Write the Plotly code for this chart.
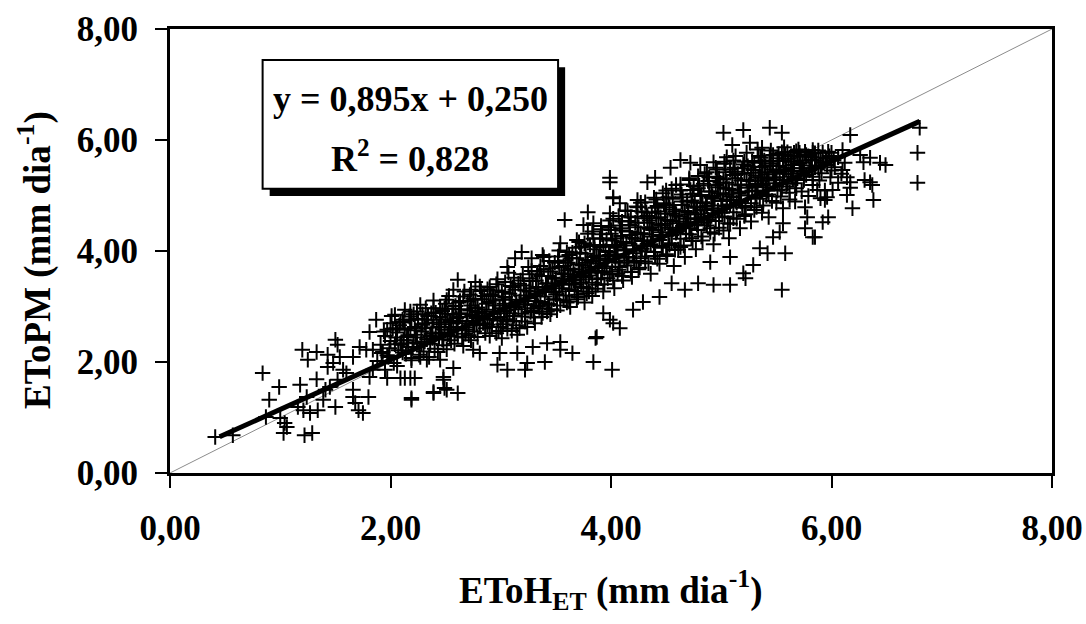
import plotly.graph_objects as go

# sparse points around the cloud
edge_pts = [
    (0.41, 0.65), (0.57, 0.68), (0.84, 1.80), (0.99, 1.55), (0.90, 1.32), (0.87, 1.01),
    (1.00, 0.99), (1.04, 0.90), (1.06, 0.83), (1.03, 0.72), (1.22, 0.68), (1.29, 0.72),
    (1.18, 1.59), (1.20, 2.22), (1.25, 2.04), (1.33, 2.18), (1.33, 1.69), (1.24, 1.37),
    (1.16, 1.19), (1.21, 1.13), (1.27, 1.08), (1.34, 1.13), (1.39, 1.32), (1.41, 1.50),
    (1.45, 1.55), (1.50, 1.19), (1.43, 2.13), (1.43, 1.91), (1.48, 1.98), (1.50, 2.40),
    (1.52, 2.31), (1.54, 2.09), (1.57, 1.86), (1.60, 1.80), (1.52, 1.68), (1.66, 1.50),
    (1.66, 1.37), (1.68, 1.26), (1.71, 1.13), (1.75, 1.08), (1.66, 2.09), (1.72, 2.27),
    (1.78, 2.22), (1.81, 1.73), (1.80, 1.37), (1.84, 1.86), (1.84, 2.22), (1.81, 2.54),
    (1.87, 2.76), (1.92, 2.16), (1.95, 1.86), (1.97, 1.71), (1.97, 2.58), (2.00, 2.70),
    (2.04, 2.85), (2.09, 1.71), (2.13, 1.71), (2.18, 1.71), (2.22, 1.71), (2.19, 1.32),
    (2.09, 2.34), (2.15, 2.45), (2.19, 2.07), (2.11, 2.76), (2.19, 2.76), (2.24, 2.34),
    (2.39, 1.44), (2.49, 1.53), (2.61, 1.44), (2.48, 1.68), (2.57, 1.89), (2.19, 1.35),
    (2.39, 1.46), (2.51, 1.50), (2.61, 3.48), (2.77, 3.44), (2.57, 3.30), (2.73, 3.30),
    (2.51, 3.12), (2.39, 2.97), (2.18, 2.76), (2.90, 3.35), (3.06, 3.71), (3.13, 3.87),
    (3.19, 3.98), (3.28, 3.87), (3.38, 3.93), (3.54, 4.14), (3.58, 4.56), (3.69, 4.20),
    (3.75, 4.47), (3.79, 4.70), (3.84, 4.50), (3.99, 4.68), (4.02, 4.97), (3.99, 5.24),
    (2.48, 1.73), (2.97, 1.95), (3.06, 1.86), (3.22, 1.86), (3.24, 1.98), (3.40, 2.00),
    (3.54, 2.22), (3.65, 2.16), (3.84, 2.00), (4.01, 1.86), (3.86, 2.43), (3.54, 2.36),
    (3.42, 2.34), (3.29, 2.27), (3.15, 2.16), (2.99, 2.16), (2.81, 2.16), (2.75, 2.22),
    (2.45, 2.04), (2.33, 2.04), (2.27, 2.09), (4.02, 2.70), (3.93, 2.88), (3.87, 2.45),
    (5.02, 6.13), (5.20, 6.18), (5.44, 6.22), (5.55, 6.13), (5.10, 5.91), (5.26, 5.95),
    (5.37, 5.86), (3.99, 5.32), (4.33, 5.24), (4.40, 5.32), (4.54, 5.50), (4.63, 5.64),
    (4.72, 5.59), (4.81, 5.55), (4.93, 5.60), (5.05, 5.69), (4.02, 4.95), (4.24, 4.92),
    (4.08, 4.86), (5.55, 5.78), (5.71, 5.77), (5.83, 5.77), (5.76, 4.79), (5.78, 4.61),
    (5.76, 4.41), (5.83, 4.25), (5.56, 4.50), (5.53, 4.34), (5.47, 4.25), (5.58, 3.96),
    (5.42, 3.96), (5.35, 4.05), (5.29, 3.75), (5.20, 3.60), (5.22, 3.51), (5.08, 3.39),
    (4.93, 3.39), (4.79, 3.42), (4.67, 3.30), (5.55, 3.30), (4.55, 3.42), (4.44, 3.17),
    (4.29, 3.08), (4.20, 2.94), (4.08, 2.61), (3.99, 2.76), (5.08, 3.89), (4.90, 3.80),
    (6.80, 6.22), (6.78, 5.77), (6.78, 5.23), (6.17, 6.09), (6.26, 5.73), (6.35, 5.68),
    (6.44, 5.59), (6.49, 5.55), (6.29, 5.60), (6.10, 5.82), (6.00, 5.77), (5.92, 5.77),
    (5.83, 5.82), (6.10, 5.46), (6.14, 5.33), (6.17, 5.24), (6.17, 5.14), (6.14, 5.01),
    (6.19, 4.77), (6.30, 5.28), (6.35, 5.24), (6.37, 5.19), (6.38, 4.92), (6.06, 5.23),
    (6.01, 5.10), (5.96, 4.97), (5.90, 4.95), (5.94, 4.92), (5.97, 4.61), (5.92, 4.52),
    (5.85, 4.25), (5.87, 5.10), (5.83, 5.28),
]

# dense band of the cloud
core_pts = [
    (1.88, 2.02), (1.91, 2.31), (1.93, 2.18), (1.95, 2.47), (1.97, 2.12), (2.00, 2.38),
    (2.02, 2.60), (1.99, 2.25), (2.03, 1.98), (2.05, 2.44), (2.07, 2.21), (2.08, 2.66),
    (2.06, 2.53), (2.10, 2.31), (2.12, 2.72), (2.14, 2.15), (2.16, 2.48), (2.15, 2.39),
    (2.13, 2.58), (2.17, 2.82), (2.20, 2.26), (2.22, 2.63), (2.23, 2.49), (2.25, 2.78),
    (2.21, 2.35), (2.24, 2.91), (2.28, 2.55), (2.30, 2.19), (2.31, 2.70), (2.33, 2.41),
    (2.29, 2.86), (2.32, 2.97), (2.36, 2.33), (2.38, 2.62), (2.39, 2.76), (2.41, 2.51),
    (2.37, 2.88), (2.40, 2.24), (2.44, 2.45), (2.46, 2.68), (2.47, 2.92), (2.49, 2.58),
    (2.45, 2.81), (2.48, 2.30), (2.50, 3.05), (2.52, 2.50), (2.54, 2.74), (2.55, 2.39),
    (2.57, 2.96), (2.53, 2.63), (2.56, 2.85), (2.60, 2.57), (2.62, 2.81), (2.63, 3.10),
    (2.65, 2.44), (2.61, 2.70), (2.64, 2.95), (2.66, 3.18), (2.68, 2.62), (2.70, 2.86),
    (2.71, 2.48), (2.73, 3.02), (2.69, 2.74), (2.72, 3.21), (2.76, 2.55), (2.78, 2.79),
    (2.79, 2.98), (2.81, 2.66), (2.77, 3.12), (2.80, 2.90), (2.82, 3.28), (2.84, 2.70),
    (2.86, 2.52), (2.87, 2.94), (2.89, 3.08), (2.85, 2.83), (2.88, 3.31), (2.92, 2.63),
    (2.94, 2.87), (2.95, 3.02), (2.97, 2.75), (2.93, 3.19), (2.96, 3.40), (2.98, 2.56),
    (3.00, 2.81), (3.02, 2.68), (3.03, 3.05), (3.05, 2.93), (3.01, 3.26), (3.04, 3.44),
    (3.06, 2.60), (3.08, 2.88), (3.10, 3.12), (3.11, 2.74), (3.13, 3.30), (3.09, 3.01),
    (3.12, 3.52), (3.14, 2.66), (3.16, 2.95), (3.18, 3.20), (3.19, 2.82), (3.21, 3.38),
    (3.17, 3.09), (3.20, 3.58), (3.22, 2.73), (3.24, 3.03), (3.26, 3.27), (3.27, 2.90),
    (3.29, 3.46), (3.25, 3.15), (3.28, 3.64), (3.30, 2.80), (3.32, 3.10), (3.34, 3.35),
    (3.35, 2.97), (3.37, 3.55), (3.33, 3.23), (3.36, 3.73), (3.38, 2.88), (3.40, 3.18),
    (3.42, 3.42), (3.43, 3.05), (3.45, 3.63), (3.41, 3.30), (3.44, 3.82), (3.46, 2.95),
    (3.47, 3.52), (3.48, 3.26), (3.50, 3.50), (3.51, 3.12), (3.53, 3.71), (3.49, 3.38),
    (3.52, 3.90), (3.54, 3.02), (3.55, 3.60), (3.56, 3.33), (3.58, 3.58), (3.59, 3.20),
    (3.61, 3.79), (3.57, 3.46), (3.60, 3.98), (3.62, 3.09), (3.63, 3.68), (3.64, 3.41),
    (3.66, 3.66), (3.67, 3.28), (3.69, 3.87), (3.65, 3.54), (3.68, 4.06), (3.70, 3.17),
    (3.71, 3.76), (3.72, 3.49), (3.74, 3.74), (3.75, 3.35), (3.77, 3.95), (3.73, 3.62),
    (3.76, 4.14), (3.78, 3.24), (3.79, 3.84), (3.80, 3.56), (3.82, 3.82), (3.83, 3.43),
    (3.85, 4.03), (3.81, 3.70), (3.84, 4.22), (3.86, 3.32), (3.87, 3.92), (3.83, 4.35),
    (3.88, 3.64), (3.90, 3.90), (3.91, 3.51), (3.93, 4.11), (3.89, 3.78), (3.92, 4.30),
    (3.94, 3.40), (3.95, 4.00), (3.91, 4.45), (3.96, 3.72), (3.98, 3.98), (3.99, 3.58),
    (4.01, 4.19), (3.97, 3.86), (4.00, 4.38), (4.02, 3.47), (4.03, 4.08), (3.99, 4.55),
    (4.04, 3.80), (4.06, 4.06), (4.07, 3.66), (4.09, 4.27), (4.05, 3.94), (4.08, 4.46),
    (4.10, 3.55), (4.11, 4.16), (4.07, 4.63), (4.12, 3.88), (4.14, 4.14), (4.15, 3.74),
    (4.17, 4.35), (4.13, 4.02), (4.16, 4.54), (4.18, 3.62), (4.19, 4.24), (4.15, 4.72),
    (4.20, 3.96), (4.22, 4.22), (4.23, 3.82), (4.25, 4.43), (4.21, 4.10), (4.24, 4.62),
    (4.26, 3.70), (4.27, 4.32), (4.23, 4.80), (4.28, 4.04), (4.30, 4.30), (4.31, 3.90),
    (4.33, 4.51), (4.29, 4.18), (4.32, 4.70), (4.34, 3.78), (4.35, 4.40), (4.31, 4.88),
    (4.36, 4.12), (4.38, 4.38), (4.39, 3.98), (4.41, 4.59), (4.37, 4.26), (4.40, 4.78),
    (4.42, 3.86), (4.43, 4.48), (4.39, 4.96), (4.44, 4.20), (4.46, 4.46), (4.47, 4.06),
    (4.49, 4.67), (4.45, 4.34), (4.48, 4.86), (4.50, 3.94), (4.51, 4.56), (4.47, 5.04),
    (4.52, 4.28), (4.54, 4.54), (4.55, 4.14), (4.57, 4.75), (4.53, 4.42), (4.56, 4.94),
    (4.58, 4.02), (4.59, 4.64), (4.55, 5.12), (4.60, 4.36), (4.62, 4.62), (4.63, 4.22),
    (4.65, 4.83), (4.61, 4.50), (4.64, 5.02), (4.66, 4.10), (4.67, 4.72), (4.63, 5.20),
    (4.68, 4.44), (4.70, 4.70), (4.71, 4.30), (4.73, 4.91), (4.69, 4.58), (4.72, 5.10),
    (4.74, 4.18), (4.75, 4.80), (4.71, 5.28), (4.76, 4.52), (4.78, 4.78), (4.79, 4.38),
    (4.81, 4.99), (4.77, 4.66), (4.80, 5.18), (4.82, 4.26), (4.83, 4.88), (4.79, 5.35),
    (4.84, 4.60), (4.86, 4.86), (4.87, 4.46), (4.89, 5.07), (4.85, 4.74), (4.88, 5.26),
    (4.90, 4.34), (4.91, 4.96), (4.87, 5.42), (4.92, 4.68), (4.94, 4.94), (4.95, 4.54),
    (4.97, 5.15), (4.93, 4.82), (4.96, 5.34), (4.98, 4.42), (4.99, 5.04), (4.95, 5.50),
    (5.00, 4.76), (5.02, 5.02), (5.03, 4.62), (5.05, 5.23), (5.01, 4.90), (5.04, 5.42),
    (5.06, 4.50), (5.07, 5.12), (5.03, 5.57), (5.08, 4.84), (5.10, 5.10), (5.11, 4.70),
    (5.13, 5.31), (5.09, 4.98), (5.12, 5.50), (5.14, 4.58), (5.15, 5.20), (5.11, 5.63),
    (5.16, 4.92), (5.18, 5.18), (5.19, 4.78), (5.21, 5.39), (5.17, 5.06), (5.20, 5.56),
    (5.22, 4.66), (5.23, 5.28), (5.24, 5.00), (5.26, 5.26), (5.27, 4.86), (5.29, 5.46),
    (5.25, 5.14), (5.28, 5.62), (5.30, 4.74), (5.31, 5.36), (5.32, 5.08), (5.34, 5.32),
    (5.35, 4.94), (5.37, 5.52), (5.33, 5.21), (5.36, 5.68), (5.38, 4.82), (5.39, 5.42),
    (5.40, 5.15), (5.42, 5.38), (5.43, 5.02), (5.45, 5.57), (5.41, 5.27), (5.44, 5.72),
    (5.46, 4.90), (5.47, 5.47), (5.48, 5.22), (5.50, 5.44), (5.51, 5.09), (5.53, 5.62),
    (5.49, 5.33), (5.52, 5.75), (5.54, 4.98), (5.56, 5.28), (5.58, 5.50), (5.59, 5.16),
    (5.61, 5.66), (5.57, 5.39), (5.60, 5.78), (5.62, 5.05), (5.64, 5.34), (5.66, 5.55),
    (5.67, 5.22), (5.69, 5.70), (5.65, 5.44), (5.68, 5.80), (5.72, 5.40), (5.74, 5.60),
    (5.75, 5.28), (5.77, 5.73), (5.73, 5.49), (5.80, 5.45), (5.82, 5.64), (5.83, 5.34),
    (5.85, 5.76), (5.81, 5.54), (5.88, 5.50), (5.90, 5.68), (5.91, 5.40), (5.93, 5.60),
    (5.96, 5.55), (5.98, 5.71), (6.00, 5.45), (6.02, 5.63),
]

# more of the band, read with a wider spread
band_pts = [
    (1.94, 2.55), (1.98, 2.09), (2.01, 2.83), (2.04, 2.32), (2.06, 1.93), (2.09, 2.71), (2.11, 2.17),
    (2.13, 2.94), (2.16, 2.27), (2.18, 2.61), (2.19, 2.03), (2.21, 2.86), (2.24, 2.44), (2.26, 2.13),
    (2.27, 3.03), (2.29, 2.67), (2.31, 2.37), (2.34, 2.83), (2.35, 2.09), (2.37, 2.52), (2.39, 3.11),
    (2.42, 2.71), (2.43, 2.18), (2.45, 2.96), (2.47, 2.41), (2.50, 2.77), (2.51, 2.23), (2.53, 3.19),
    (2.55, 2.59), (2.58, 2.33), (2.59, 3.01), (2.61, 2.46), (2.63, 2.88), (2.66, 2.29), (2.67, 3.27),
    (2.69, 2.58), (2.72, 2.93), (2.73, 2.39), (2.75, 3.14), (2.78, 2.68), (2.79, 2.45), (2.81, 3.36),
    (2.83, 2.87), (2.86, 2.61), (2.87, 3.05), (2.90, 2.47), (2.91, 3.22), (2.93, 2.78), (2.96, 2.52),
    (2.97, 3.49), (2.99, 2.97), (3.01, 2.43), (3.04, 3.17), (3.05, 2.73), (3.07, 3.61), (3.10, 2.56),
    (3.11, 3.35), (3.13, 2.99), (3.15, 2.49), (3.18, 3.47), (3.19, 2.87), (3.21, 3.11), (3.24, 2.63),
    (3.25, 3.71), (3.27, 3.33), (3.30, 2.97), (3.31, 2.70), (3.33, 3.58), (3.36, 3.08), (3.37, 2.81),
    (3.39, 3.89), (3.41, 3.41), (3.44, 3.03), (3.45, 2.86), (3.47, 3.69), (3.50, 3.22), (3.51, 2.93),
    (3.53, 4.01), (3.56, 3.47), (3.57, 3.11), (3.59, 3.83), (3.62, 3.31), (3.63, 2.99), (3.65, 3.97),
    (3.67, 3.57), (3.70, 3.21), (3.71, 4.16), (3.73, 3.43), (3.76, 3.07), (3.77, 3.79), (3.79, 4.31),
    (3.82, 3.61), (3.83, 3.19), (3.85, 4.09), (3.88, 3.39), (3.89, 3.86), (3.91, 4.39), (3.93, 3.27),
    (3.96, 4.21), (3.97, 3.51), (3.99, 3.93), (4.02, 4.58), (4.03, 3.33), (4.05, 4.11), (4.08, 3.71),
    (4.09, 4.41), (4.11, 3.47), (4.13, 4.73), (4.16, 3.89), (4.17, 4.29), (4.19, 3.53), (4.22, 4.51),
    (4.23, 4.01), (4.25, 3.67), (4.27, 4.87), (4.30, 4.19), (4.31, 3.81), (4.33, 4.63), (4.36, 3.59),
    (4.37, 4.43), (4.39, 4.09), (4.41, 4.93), (4.44, 3.77), (4.45, 4.61), (4.47, 4.27), (4.50, 5.09),
    (4.51, 3.91), (4.53, 4.79), (4.56, 4.39), (4.57, 3.73), (4.59, 5.19), (4.62, 4.53), (4.63, 4.07),
    (4.65, 4.97), (4.67, 3.89), (4.70, 4.66), (4.71, 5.31), (4.73, 4.23), (4.76, 4.87), (4.77, 4.03),
    (4.79, 5.13), (4.82, 4.61), (4.83, 4.19), (4.85, 5.39), (4.87, 4.81), (4.90, 4.41), (4.91, 5.07),
    (4.93, 4.12), (4.96, 5.47), (4.97, 4.73), (4.99, 5.23), (5.02, 4.37), (5.03, 5.61), (5.05, 4.93),
    (5.07, 4.23), (5.10, 5.37), (5.11, 4.59), (5.13, 5.71), (5.16, 5.03), (5.17, 4.41), (5.19, 5.49),
    (5.22, 4.81), (5.23, 5.77), (5.25, 5.19), (5.27, 4.53), (5.30, 5.59), (5.31, 4.97), (5.33, 5.83),
    (5.36, 5.33), (5.37, 4.69), (5.39, 5.63), (5.42, 5.09), (5.43, 4.61), (5.45, 5.81), (5.47, 5.41),
    (5.50, 4.87), (5.51, 5.67), (5.53, 5.21), (5.56, 4.77), (5.57, 5.87), (5.59, 5.47), (5.62, 4.93),
    (5.63, 5.71), (5.65, 5.29), (5.67, 4.89), (5.70, 5.83), (5.71, 5.57), (5.73, 5.07), (5.76, 5.79),
    (5.77, 5.37), (5.79, 4.99), (5.82, 5.69), (5.83, 5.19), (5.85, 5.51), (5.88, 5.81), (5.89, 5.27),
    (5.92, 5.59), (5.94, 5.09), (5.97, 5.79), (5.99, 5.33), (6.03, 5.51), (6.06, 5.69), (6.09, 5.39),
    (6.12, 5.59),
    (2.32, 2.61), (2.36, 2.47), (2.41, 2.89), (2.46, 2.53), (2.52, 2.87), (2.57, 2.71), (2.62, 3.07),
    (2.68, 2.51), (2.74, 2.83), (2.77, 2.97), (2.83, 3.13), (2.88, 2.67), (2.93, 2.91), (2.98, 3.29),
    (3.03, 2.91), (3.08, 3.23), (3.12, 2.83), (3.16, 3.41), (3.22, 3.04), (3.26, 3.51), (3.31, 3.19),
    (3.35, 3.63), (3.38, 3.31), (3.43, 3.55), (3.48, 3.13), (3.52, 3.81), (3.55, 3.39), (3.61, 3.65),
    (3.64, 3.87), (3.68, 3.39), (3.72, 3.97), (3.75, 3.59), (3.78, 3.33), (3.81, 4.11), (3.86, 3.71),
    (3.90, 4.23), (3.92, 3.61), (3.95, 3.83), (4.00, 4.31), (4.04, 3.91), (4.06, 3.59), (4.10, 4.37),
    (4.12, 4.01), (4.18, 4.61), (4.21, 3.79), (4.24, 4.33), (4.28, 4.71), (4.32, 3.99), (4.35, 4.55),
    (4.38, 4.19), (4.42, 4.81), (4.46, 4.07), (4.49, 4.49), (4.52, 4.97), (4.55, 4.29), (4.58, 4.71),
    (4.61, 4.03), (4.64, 4.89), (4.68, 4.31), (4.72, 4.59), (4.74, 5.03), (4.78, 4.47), (4.81, 4.73),
    (4.84, 5.21), (4.88, 4.57), (4.92, 4.99), (4.94, 4.31), (4.98, 5.31), (5.01, 4.69), (5.04, 5.13),
    (5.08, 4.49), (5.12, 5.43), (5.14, 4.87), (5.18, 5.27), (5.21, 4.63), (5.24, 5.53), (5.28, 5.09),
    (5.32, 4.79), (5.35, 5.51), (5.38, 5.19), (5.41, 4.99), (5.44, 5.61), (5.48, 5.29), (5.52, 5.53),
    (5.55, 5.11), (5.58, 5.73), (5.61, 5.39), (5.64, 5.61), (5.68, 5.13), (5.71, 5.71),
]

# darkest middle of the band
mid_pts = [
    (3.02, 3.13), (3.06, 2.77), (3.09, 3.37), (3.14, 3.07), (3.17, 2.61), (3.23, 3.29), (3.28, 2.93),
    (3.32, 3.47), (3.34, 3.01), (3.39, 3.67), (3.42, 2.91), (3.46, 3.37), (3.49, 3.79), (3.53, 3.27),
    (3.57, 3.73), (3.60, 3.07), (3.62, 3.93), (3.66, 3.47), (3.69, 3.13), (3.73, 4.07), (3.77, 3.53),
    (3.80, 3.27), (3.84, 3.89), (3.87, 3.49), (3.90, 4.07), (3.94, 3.69), (3.98, 4.43), (4.01, 3.63),
    (4.04, 4.23), (4.07, 3.79), (4.10, 4.53), (4.14, 3.83), (4.17, 4.47), (4.20, 4.03), (4.24, 4.79),
    (4.27, 3.87), (4.30, 4.59), (4.33, 4.13), (4.37, 4.69), (4.40, 3.91), (4.43, 4.71), (4.46, 4.29),
    (4.50, 4.83), (4.53, 4.11), (4.56, 4.67), (4.59, 4.33), (4.63, 5.09), (4.66, 4.47), (4.69, 4.89),
    (4.72, 4.41), (4.75, 5.17), (4.79, 4.57), (4.82, 5.01), (4.85, 4.51), (4.89, 5.33), (4.92, 4.77),
    (4.95, 5.19), (4.98, 4.61), (5.02, 5.29), (5.05, 4.81), (5.08, 5.47), (5.11, 4.97), (5.15, 5.39),
    (5.18, 4.89), (5.21, 5.61), (5.24, 5.07), (5.27, 5.41), (5.31, 5.17), (5.34, 5.71), (5.37, 5.27),
    (5.40, 5.53), (5.43, 5.31), (5.47, 5.73), (5.50, 5.29), (5.53, 5.41), (5.56, 5.63), (5.60, 5.21),
    (5.63, 5.49), (5.66, 5.77), (5.69, 5.31), (5.72, 5.63), (5.75, 5.43), (5.79, 5.71), (5.82, 5.49),
    (5.86, 5.63), (5.90, 5.53), (5.95, 5.67),
    (2.05, 2.61), (2.12, 2.39), (2.18, 2.91), (2.23, 2.57), (2.28, 2.33), (2.33, 2.76), (2.38, 2.43),
    (2.44, 2.63), (2.49, 2.96), (2.54, 2.47), (2.60, 2.79), (2.65, 2.63), (2.70, 3.09), (2.75, 2.66),
    (2.80, 2.81), (2.85, 3.19), (2.90, 2.76), (2.95, 3.11), (3.00, 2.63),
]

pts = edge_pts + core_pts + band_pts + mid_pts
x_vals = [p[0] for p in pts]
y_vals = [p[1] for p in pts]

# trend line from the fitted equation, and the 1:1 line
slope, intercept = 0.895, 0.250
trend_x = [0.45, 6.80]
trend_y = [slope * v + intercept for v in trend_x]
diag = [0, 8]

tick_vals = [0, 2, 4, 6, 8]
tick_text = ["0,00", "2,00", "4,00", "6,00", "8,00"]

serif = "Liberation Serif, Times New Roman, serif"
bold = lambda s: dict(family=serif, size=s, color="black", weight="bold")

fig = go.Figure()
fig.add_trace(go.Scatter(x=diag, y=diag, mode="lines",
                         line=dict(color="#8c8c8c", width=1), hoverinfo="skip"))
fig.add_trace(go.Scatter(x=x_vals, y=y_vals, mode="markers",
                         marker=dict(symbol="cross-thin", size=11, color="black",
                                     line=dict(color="black", width=2))))
fig.add_trace(go.Scatter(x=trend_x, y=trend_y, mode="lines",
                         line=dict(color="black", width=5)))

# equation box with drop shadow (paper coords)
fig.add_shape(type="rect", xref="paper", yref="paper", x0=0.113, x1=0.448, y0=0.624, y1=0.914,
              fillcolor="black", line=dict(width=0))
fig.add_shape(type="rect", xref="paper", yref="paper", x0=0.105, x1=0.440, y0=0.640, y1=0.930,
              fillcolor="white", line=dict(color="black", width=2))
fig.add_annotation(xref="paper", yref="paper", x=0.2725, y=0.842, xanchor="center", yanchor="middle",
                   showarrow=False, text="y = 0,895x + 0,250", font=bold(36))
fig.add_annotation(xref="paper", yref="paper", x=0.2725, y=0.712, xanchor="center", yanchor="middle",
                   showarrow=False, text="R<sup>2</sup> = 0,828", font=bold(36))

# axis titles
fig.add_annotation(xref="paper", yref="paper", x=0.5, y=-0.2635, xanchor="center", yanchor="middle",
                   showarrow=False, text="EToH<sub>ET</sub> (mm dia<sup>-1</sup>)", font=bold(37))
fig.add_annotation(xref="paper", yref="paper", x=-0.153, y=0.48, xanchor="center", yanchor="middle",
                   showarrow=False, textangle=-90, text="EToPM (mm dia<sup>-1</sup>)", font=bold(37))

axis_common = dict(range=[0, 8], tickvals=tick_vals, ticktext=tick_text, showgrid=False,
                   zeroline=False, showline=True, linecolor="black", linewidth=3, mirror=True,
                   ticks="outside", ticklen=12, tickwidth=2, tickcolor="black",
                   automargin=False, ticklabeloverflow="allow", tickfont=bold(35))

fig.update_layout(
    width=1086, height=624, showlegend=False,
    paper_bgcolor="white", plot_bgcolor="white",
    margin=dict(l=170, r=34, t=29, b=151),
    xaxis=dict(**axis_common, ticklabelstandoff=10),
    yaxis=dict(**axis_common, ticklabelstandoff=10),
)

# drop the default page margin so the figure fills the window exactly
fig.write_html("out.html", config={"displayModeBar": False},
               post_script="document.body.style.margin='0px';document.body.style.overflow='hidden';")
